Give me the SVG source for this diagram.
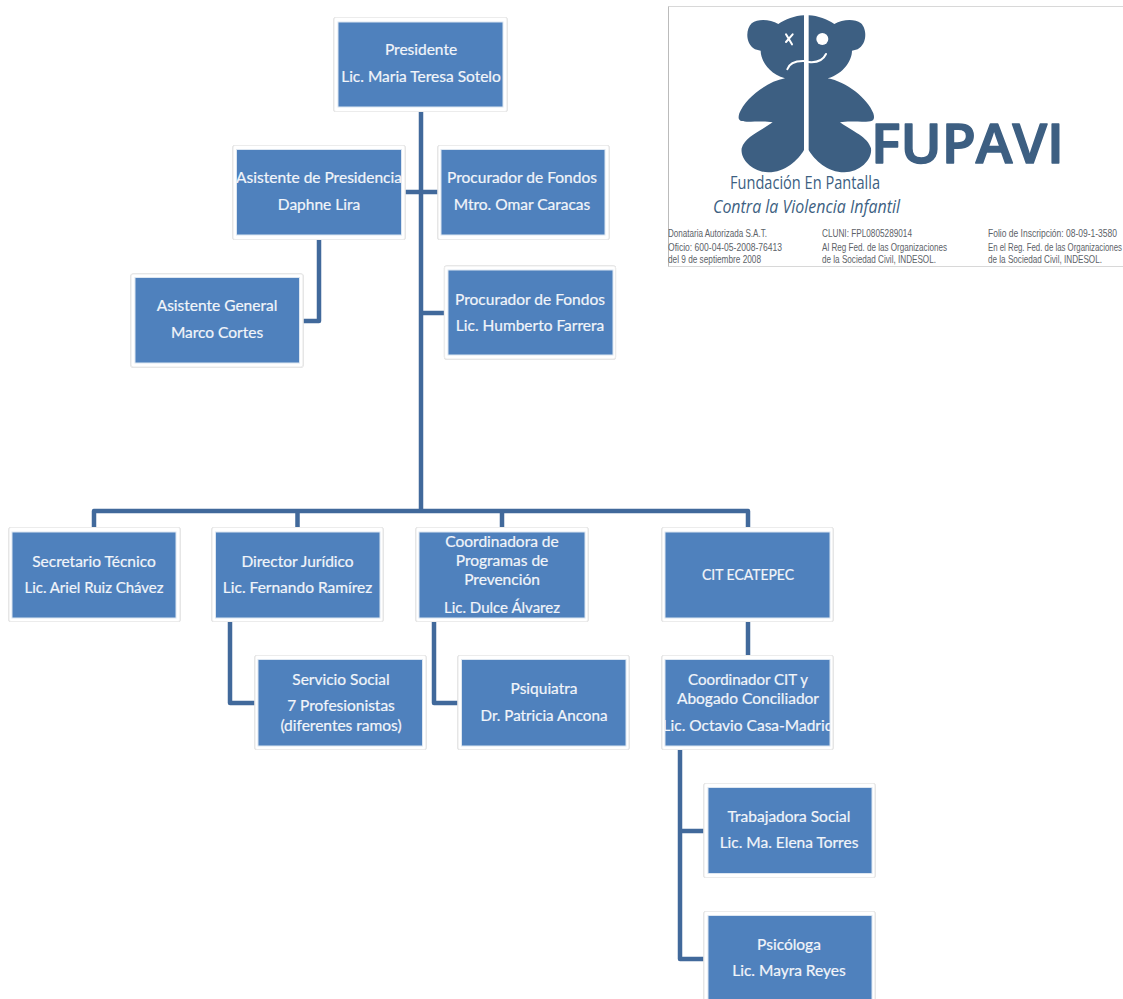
<svg xmlns="http://www.w3.org/2000/svg" width="1123" height="999" viewBox="0 0 1123 999">
<style>
.o{fill:#fff;stroke:#ececec;stroke-width:1.2;filter:drop-shadow(.5px .8px 0 #c8c8c8)}
.i{fill:#4f81bd;stroke:#dce6f1;stroke-width:1}
.t{font-family:Lato,"Open Sans",sans-serif;font-size:15.5px;fill:#f2f5fa;stroke:#f2f5fa;stroke-width:.2;text-anchor:middle}
.c{fill:none;stroke:#41699b;stroke-width:4.5;stroke-linejoin:round}
.b{fill:#3d5f82}
.w{fill:none;stroke:#fff;stroke-width:6;stroke-linecap:round}
.s{font-family:"Liberation Sans",Arial,sans-serif;font-size:10.5px;fill:#5c6268}
</style>
<defs>
<clipPath id="clipCoord"><rect x="665" y="659" width="165" height="87"/></clipPath>
<path id="half" d="M222 16C195 17 165 28 145 42C120 28 85 25 65 40C48 56 44 100 75 118L92 122C92 150 115 190 165 205C110 215 45 265 28 310C22 330 28 335 50 335C85 335 110 333 128 337C90 365 45 380 35 415C30 450 70 487 115 487C165 487 205 450 222 420Z"/>
</defs>
<rect width="1123" height="999" fill="#fff"/>
<g id="connectors">
<path class="c" d="M421 111V511"/>
<path class="c" d="M94 527V511H748V527"/>
<path class="c" d="M297.500 511V527M502 511V527"/>
<path class="c" d="M405 192H438M421 313H444"/>
<path class="c" d="M319 239V321H303"/>
<path class="c" d="M230 622V703H255"/>
<path class="c" d="M434 622V703H458"/>
<path class="c" d="M748 622V655"/>
<path class="c" d="M680 750V959H704M680 831H704"/>
</g>
<g id="n-presidente"><rect class="o" x="334" y="17.500" width="173" height="94" rx="2"/><rect class="i" x="338" y="22" width="165" height="85"/><text class="t" x="421" y="55">Presidente</text><text class="t" x="421" y="82">Lic. Maria Teresa Sotelo</text></g>
<g id="n-asistente-presidencia"><rect class="o" x="233" y="145.500" width="172" height="94" rx="2"/><rect class="i" x="236.500" y="149.500" width="165" height="85.500"/><text class="t" x="319" y="183">Asistente de Presidencia</text><text class="t" x="319" y="210">Daphne Lira</text></g>
<g id="n-procurador-1"><rect class="o" x="438" y="145.500" width="171" height="94" rx="2"/><rect class="i" x="441" y="149.500" width="164" height="85.500"/><text class="t" x="522" y="183">Procurador de Fondos</text><text class="t" x="522" y="210">Mtro. Omar Caracas</text></g>
<g id="n-procurador-2"><rect class="o" x="444.500" y="266" width="171" height="93" rx="2"/><rect class="i" x="448" y="270" width="165" height="85"/><text class="t" x="530" y="305">Procurador de Fondos</text><text class="t" x="530" y="331">Lic. Humberto Farrera</text></g>
<g id="n-asistente-general"><rect class="o" x="131" y="274" width="172" height="93" rx="2"/><rect class="i" x="135" y="277.500" width="164.500" height="85.500"/><text class="t" x="217" y="311">Asistente General</text><text class="t" x="217" y="338">Marco Cortes</text></g>
<g id="n-secretario"><rect class="o" x="9" y="527.500" width="171" height="94" rx="2"/><rect class="i" x="12" y="532" width="164" height="86"/><text class="t" x="94" y="567">Secretario Técnico</text><text class="t" x="94" y="593" textLength="139" lengthAdjust="spacingAndGlyphs">Lic. Ariel Ruiz Chávez</text></g>
<g id="n-director"><rect class="o" x="212" y="527.500" width="171" height="94" rx="2"/><rect class="i" x="215.500" y="532" width="164.500" height="86"/><text class="t" x="297.500" y="567">Director Jurídico</text><text class="t" x="297.500" y="593">Lic. Fernando Ramírez</text></g>
<g id="n-coordinadora"><rect class="o" x="416" y="527.500" width="172" height="94" rx="2"/><rect class="i" x="419" y="532" width="166" height="86"/><text class="t" x="502" y="547">Coordinadora de</text><text class="t" x="502" y="566">Programas de</text><text class="t" x="502" y="585">Prevención</text><text class="t" x="502" y="613" textLength="116" lengthAdjust="spacingAndGlyphs">Lic. Dulce Álvarez</text></g>
<g id="n-cit"><rect class="o" x="662" y="527.500" width="171" height="94" rx="2"/><rect class="i" x="665" y="532" width="165" height="86"/><text class="t" x="748" y="580" textLength="92" lengthAdjust="spacingAndGlyphs">CIT ECATEPEC</text></g>
<g id="n-servicio"><rect class="o" x="255" y="655.500" width="171" height="94" rx="2"/><rect class="i" x="258" y="659.500" width="164.500" height="86.500"/><text class="t" x="341" y="685">Servicio Social</text><text class="t" x="341" y="711">7 Profesionistas</text><text class="t" x="341" y="731">(diferentes ramos)</text></g>
<g id="n-psiquiatra"><rect class="o" x="458" y="655.500" width="171" height="94" rx="2"/><rect class="i" x="461.500" y="659.500" width="164.500" height="86.500"/><text class="t" x="544" y="694">Psiquiatra</text><text class="t" x="544" y="721" textLength="127" lengthAdjust="spacingAndGlyphs">Dr. Patricia Ancona</text></g>
<g id="n-coordinador"><rect class="o" x="662" y="655.500" width="171" height="94" rx="2"/><rect class="i" x="665" y="659.500" width="165" height="86.500"/><text class="t" x="748" y="685" textLength="120" lengthAdjust="spacingAndGlyphs">Coordinador CIT y</text><text class="t" x="748" y="704">Abogado Conciliador</text><g clip-path="url(#clipCoord)"><text class="t" x="748" y="731">Lic. Octavio Casa-Madrid</text></g></g>
<g id="n-trabajadora"><rect class="o" x="704" y="783.500" width="171" height="94" rx="2"/><rect class="i" x="708" y="787.500" width="164" height="86"/><text class="t" x="789" y="822">Trabajadora Social</text><text class="t" x="789" y="848">Lic. Ma. Elena Torres</text></g>
<g id="n-psicologa"><rect class="o" x="704" y="911.500" width="171" height="94" rx="2"/><rect class="i" x="708" y="915.500" width="164" height="90"/><text class="t" x="789" y="950">Psicóloga</text><text class="t" x="789" y="976">Lic. Mayra Reyes</text></g>
<g id="logo">
<path d="M1123 6.500H668.500V266.500H1123" fill="none" stroke="#d8d8d8" stroke-width="1"/>
<path d="M668.500 6.500V266.500" fill="none" stroke="#bbb" stroke-width="1"/>
<g transform="translate(730 10) scale(.3333)">
<use href="#half" class="b"/>
<use href="#half" class="b" transform="translate(458 0) scale(-1 1)"/>
<circle cx="277" cy="87" r="18" fill="#fff"/>
<path class="w" d="M168 73L186 103M188 73L168 96"/>
<path class="w" d="M172 178Q180 152 222 153M236 156Q275 160 288 132"/>
</g>
<text x="871" y="163" font-family="'Open Sans',Arial,sans-serif" font-weight="600" font-size="55" class="b" stroke="#3d5f82" stroke-width="1.5" stroke-linejoin="round" textLength="193" lengthAdjust="spacingAndGlyphs">FUPAVI</text>
<text x="730" y="189" font-family="'Open Sans',Arial,sans-serif" font-size="18" class="b" textLength="150" lengthAdjust="spacingAndGlyphs">Fundación En Pantalla</text>
<text x="713" y="213" font-family="'Open Sans',Arial,sans-serif" font-style="italic" font-size="18" class="b" textLength="187" lengthAdjust="spacingAndGlyphs">Contra la Violencia Infantil</text>
<text class="s" x="668" y="237" textLength="99" lengthAdjust="spacingAndGlyphs">Donataria Autorizada S.A.T.</text>
<text class="s" x="668" y="251" textLength="114" lengthAdjust="spacingAndGlyphs">Oficio: 600-04-05-2008-76413</text>
<text class="s" x="668" y="263" textLength="93" lengthAdjust="spacingAndGlyphs">del 9 de septiembre 2008</text>
<text class="s" x="822" y="237" textLength="90" lengthAdjust="spacingAndGlyphs">CLUNI: FPL0805289014</text>
<text class="s" x="822" y="251" textLength="125" lengthAdjust="spacingAndGlyphs">Al Reg Fed. de las Organizaciones</text>
<text class="s" x="822" y="263" textLength="114" lengthAdjust="spacingAndGlyphs">de la Sociedad Civil,  INDESOL.</text>
<text class="s" x="988" y="237" textLength="129" lengthAdjust="spacingAndGlyphs">Folio de Inscripción: 08-09-1-3580</text>
<text class="s" x="988" y="251" textLength="134" lengthAdjust="spacingAndGlyphs">En el Reg. Fed. de las Organizaciones</text>
<text class="s" x="988" y="263" textLength="114" lengthAdjust="spacingAndGlyphs">de la Sociedad Civil,  INDESOL.</text>
</g>
</svg>
